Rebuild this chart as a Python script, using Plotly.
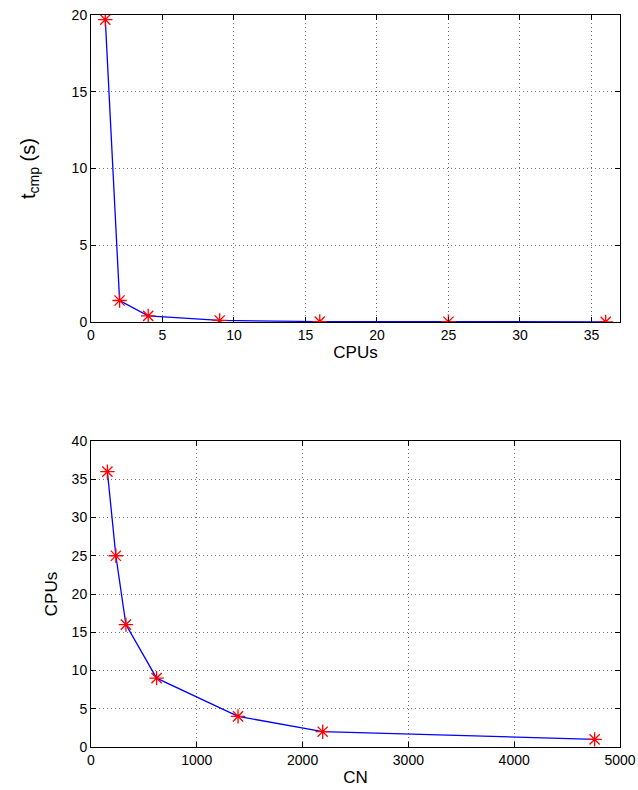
import plotly.graph_objects as go

# Computation time versus number of CPUs
cpus_top = [1, 2, 4, 9, 16, 25, 36]
t_cmp = [19.7, 1.4, 0.4, 0.1, 0.03, 0.02, 0.01]

# Number of CPUs versus CN
cn_vals = [155, 235, 330, 620, 1390, 2190, 4760]
cpus_bottom = [36, 25, 16, 9, 4, 2, 1]

FONT = "Liberation Sans, Arial, Helvetica, sans-serif"

fig = go.Figure()

line_style = dict(color="#0000FF", width=1.3)
marker_style = dict(symbol="asterisk-open", size=12, color="#FF0000",
                    line=dict(color="#FF0000", width=1.3))

fig.add_trace(go.Scatter(x=cpus_top, y=t_cmp, mode="lines+markers",
                         line=line_style, marker=marker_style,
                         xaxis="x", yaxis="y", showlegend=False))
fig.add_trace(go.Scatter(x=cn_vals, y=cpus_bottom, mode="lines+markers",
                         line=line_style, marker=marker_style,
                         xaxis="x2", yaxis="y2", showlegend=False))

W, H = 638, 790
xdom = [91 / W, 620 / W]
top_dom = [(H - 322) / H, (H - 15) / H]
bot_dom = [(H - 747) / H, (H - 441) / H]

axis_common = dict(
    showline=True, linecolor="black", linewidth=1, mirror="ticks",
    ticks="inside", ticklen=5, tickcolor="black",
    showgrid=True, gridcolor="#707070", griddash="1px,3px", gridwidth=1,
    zeroline=False, tickfont=dict(family=FONT, size=14, color="black"),
    automargin=False,
)
title_font = dict(family=FONT, size=17, color="black")

fig.update_layout(
    width=W, height=H,
    margin=dict(l=0, r=0, t=0, b=0),
    paper_bgcolor="white", plot_bgcolor="white",
    font=dict(family=FONT, color="black"),
    xaxis=dict(domain=xdom, range=[0, 37], tickvals=[0, 5, 10, 15, 20, 25, 30, 35],
               anchor="y", title=dict(text="CPUs", standoff=4, font=title_font),
               **axis_common),
    yaxis=dict(domain=top_dom, range=[0, 20], tickvals=[0, 5, 10, 15, 20],
               anchor="x", title=dict(text="t<sub>cmp</sub> (s)", standoff=30,
                                      font=dict(family=FONT, size=20, color="black")),
               **axis_common),
    xaxis2=dict(domain=xdom, range=[0, 5000], tickvals=[0, 1000, 2000, 3000, 4000, 5000],
                anchor="y2", title=dict(text="CN", standoff=4, font=title_font),
                **axis_common),
    yaxis2=dict(domain=bot_dom, range=[0, 40], tickvals=[0, 5, 10, 15, 20, 25, 30, 35, 40],
                anchor="x2", title=dict(text="CPUs", standoff=9, font=title_font),
                **axis_common),
)

fig.write_html("out.html")
